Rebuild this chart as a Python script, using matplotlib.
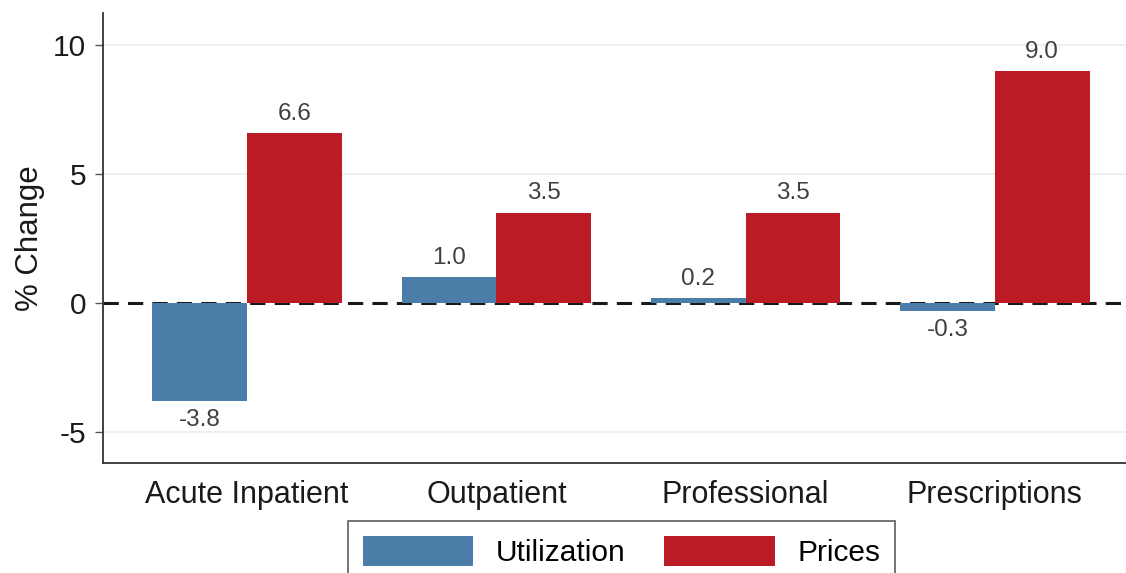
import numpy as np
import matplotlib
matplotlib.use("Agg")
import matplotlib.pyplot as plt

plt.rcParams['font.family'] = ['Liberation Sans', 'DejaVu Sans']

# Data
categories = ["Acute Inpatient", "Outpatient", "Professional", "Prescriptions"]
utilization = [-3.8, 1.0, 0.2, -0.3]
prices = [6.6, 3.5, 3.5, 9.0]
yticks = [-5, 0, 5, 10]

blue = '#4a7ea8'
red = '#bb1b24'
text_gray = '#404040'

fig = plt.figure(figsize=(11.26, 5.73), dpi=100)
ax = fig.add_axes([0.0915, 0.192, 0.9085, 0.785])

x = np.arange(len(categories))
width = 0.38

# light grid and dashed zero line
for t in yticks:
    if t != 0:
        ax.axhline(t, color='#ececec', lw=1.2, zorder=0)
ax.axhline(0, color='#1a1a1a', lw=2.2, ls=(0, (5, 3)), zorder=1)

b1 = ax.bar(x - width / 2, utilization, width, color=blue, label='Utilization', zorder=2)
b2 = ax.bar(x + width / 2, prices, width, color=red, label='Prices', zorder=2)

# value labels
for bars, vals in ((b1, utilization), (b2, prices)):
    for rect, v in zip(bars, vals):
        cx = rect.get_x() + rect.get_width() / 2
        if v >= 0:
            ax.annotate(f"{v:.1f}", (cx, v), xytext=(0, 6), textcoords='offset points',
                        ha='center', va='bottom', fontsize=17.5, color=text_gray)
        else:
            ax.annotate(f"{v:.1f}", (cx, v), xytext=(0, -6), textcoords='offset points',
                        ha='center', va='top', fontsize=17.5, color=text_gray)

ax.set_xlim(-0.578, 3.526)
ax.set_ylim(-6.2, 11.24)
ax.set_xticks(x)
ax.set_xticklabels(categories, fontsize=22, color='#1a1a1a')
ax.set_yticks(yticks)
ax.set_yticklabels([str(t) for t in yticks], fontsize=21.5, color='#1a1a1a')
ax.tick_params(axis='x', length=0, pad=12)
ax.tick_params(axis='y', length=6, width=1, color='#555555', pad=6)
ax.set_ylabel("% Change", fontsize=22.5, color='#1a1a1a', labelpad=6)

for s in ('top', 'right'):
    ax.spines[s].set_visible(False)
for s in ('left', 'bottom'):
    ax.spines[s].set_color('#333333')
    ax.spines[s].set_linewidth(1.3)

leg = fig.legend(handles=[b1, b2], loc='upper center', bbox_to_anchor=(0.552, 0.0908),
                 ncol=2, fontsize=21.5, frameon=True, fancybox=False,
                 handlelength=3.7, handleheight=1.15, handletextpad=0.75,
                 columnspacing=1.3, borderpad=0.5, borderaxespad=0)
leg.get_frame().set_edgecolor('#444444')
leg.get_frame().set_linewidth(1.3)

fig.savefig("out.png", dpi=100)
